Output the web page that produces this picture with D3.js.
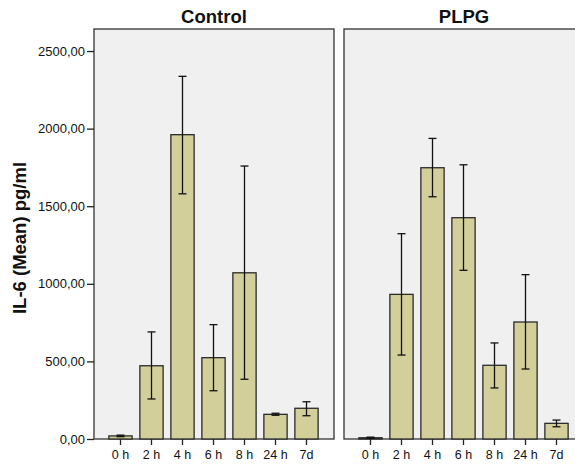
<!DOCTYPE html>
<html><head><meta charset="utf-8">
<script src="https://cdn.jsdelivr.net/npm/d3@7"></script>
<style>body{margin:0;background:#fff}</style>
</head><body>
<script>
const categories = ["0 h","2 h","4 h","6 h","8 h","24 h","7d"];
const panels = ["Control","PLPG"];
const controlMean = [20, 472, 1961, 524, 1071, 159, 198];
const controlLow  = [15, 258, 1580, 311, 385, 153, 150];
const controlHigh = [25, 690, 2337, 737, 1759, 166, 240];
const plpgMean = [8, 932, 1748, 1426, 475, 754, 101];
const plpgLow  = [4, 541, 1561, 1087, 329, 451, 79];
const plpgHigh = [12, 1323, 1937, 1767, 619, 1059, 122];
const yTicks = [0, 500, 1000, 1500, 2000, 2500];

(function(){
const W = 575, H = 466;
const svg = d3.select("body").append("svg").attr("width", W).attr("height", H)
  .style("font-family", "Arial, 'Liberation Sans', sans-serif");

const plotTop = 29, plotBottom = 439;
const y = d3.scaleLinear().domain([0, 2642]).range([plotBottom, plotTop]);
const panelX = [94, 344], panelW = 240;
const data = [
  {name: panels[0], mean: controlMean, lo: controlLow, hi: controlHigh},
  {name: panels[1], mean: plpgMean, lo: plpgLow, hi: plpgHigh}
];
const fmt = v => d3.format(".2f")(v).replace(".", ",");

data.forEach((p, i) => {
  const x0 = panelX[i];
  const g = svg.append("g");
  g.append("rect").attr("x", x0).attr("y", plotTop).attr("width", panelW).attr("height", plotBottom - plotTop)
    .attr("fill", "#f0f0f0").attr("stroke", "#333").attr("stroke-width", 1.3);
  const x = d3.scaleBand().domain(categories).range([x0 + 11, x0 + panelW - 12])
    .paddingInner(0.25).paddingOuter(0.125);
  g.selectAll("rect.bar").data(categories).enter().append("rect").attr("class", "bar")
    .attr("x", c => x(c)).attr("width", x.bandwidth())
    .attr("y", (c, j) => y(p.mean[j])).attr("height", (c, j) => plotBottom - y(p.mean[j]))
    .attr("fill", "#d3cf9a").attr("stroke", "#2b2b2b").attr("stroke-width", 1.3);
  const eg = g.selectAll("g.err").data(categories).enter().append("g")
    .attr("stroke", "#111").attr("stroke-width", 1.3);
  eg.append("line").attr("x1", c => x(c) + x.bandwidth()/2).attr("x2", c => x(c) + x.bandwidth()/2)
    .attr("y1", (c, j) => y(p.lo[j])).attr("y2", (c, j) => y(p.hi[j]));
  eg.append("line").attr("x1", c => x(c) + x.bandwidth()/2 - 4).attr("x2", c => x(c) + x.bandwidth()/2 + 4)
    .attr("y1", (c, j) => y(p.hi[j])).attr("y2", (c, j) => y(p.hi[j]));
  eg.append("line").attr("x1", c => x(c) + x.bandwidth()/2 - 4).attr("x2", c => x(c) + x.bandwidth()/2 + 4)
    .attr("y1", (c, j) => y(p.lo[j])).attr("y2", (c, j) => y(p.lo[j]));
  const xa = g.append("g").attr("transform", `translate(0,${plotBottom})`)
    .call(d3.axisBottom(x).tickSize(6).tickPadding(5));
  xa.select(".domain").remove();
  xa.selectAll("line").attr("stroke", "#222").attr("stroke-width", 1.3);
  xa.selectAll("text").attr("font-size", 12.5).attr("fill", "#111")
    .attr("font-family", "Arial, 'Liberation Sans', sans-serif");
  svg.append("text").attr("x", x0 + panelW/2).attr("y", 23).attr("text-anchor", "middle")
    .attr("font-weight", "bold").attr("font-size", 18.5).attr("fill", "#111").text(p.name);
});

const ya = svg.append("g").attr("transform", `translate(${panelX[0]},0)`)
  .call(d3.axisLeft(y).tickValues(yTicks).tickFormat(fmt).tickSize(7).tickPadding(2));
ya.select(".domain").remove();
ya.selectAll("line").attr("stroke", "#222").attr("stroke-width", 1.3);
ya.selectAll("text").attr("font-size", 13).attr("fill", "#111")
  .attr("font-family", "Arial, 'Liberation Sans', sans-serif");

svg.append("text").attr("transform", "translate(25.5,238) rotate(-90)").attr("text-anchor", "middle")
  .attr("font-weight", "bold").attr("font-size", 18.5).attr("fill", "#111").text("IL-6 (Mean) pg/ml");
})();
</script>
</body></html>
